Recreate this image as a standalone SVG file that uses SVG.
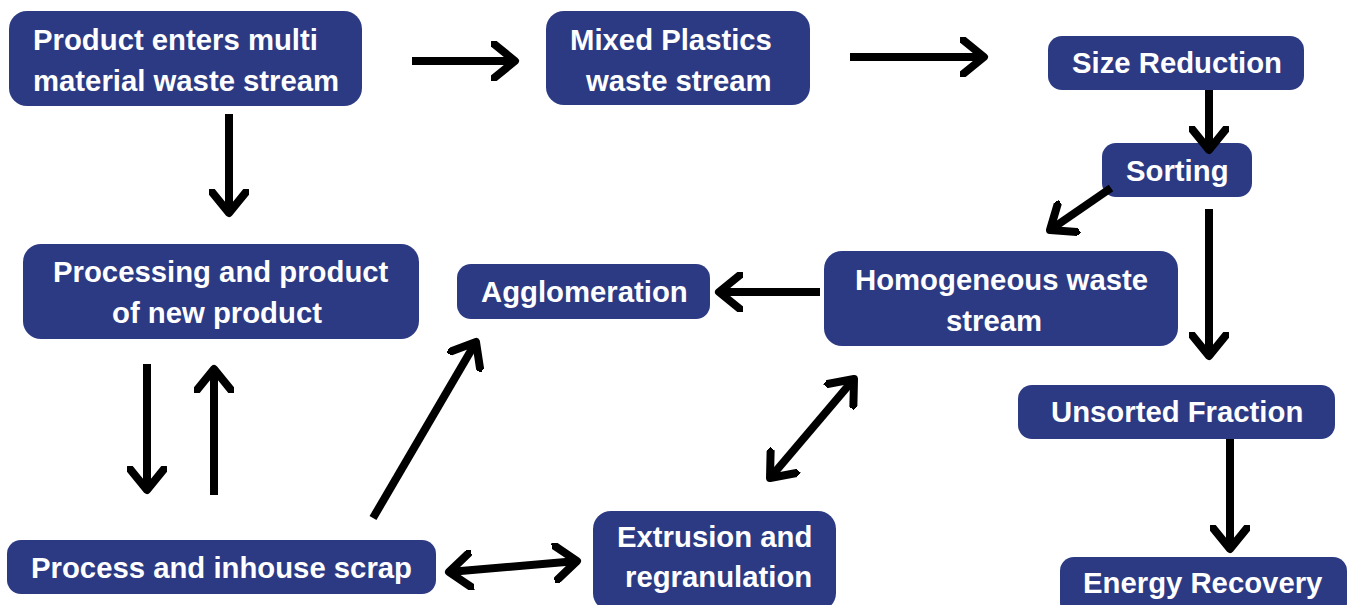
<svg xmlns="http://www.w3.org/2000/svg" width="1350" height="605" viewBox="0 0 1350 605">
<style>
.box{fill:#2c3a84;}
.t{font-family:"Liberation Sans",Arial,sans-serif;font-weight:bold;font-size:29.3px;fill:#ffffff;}
.c{stroke:#000;stroke-width:8;fill:none;}
</style>
<defs>
<marker id="ah" viewBox="0 0 30 40" refX="24" refY="20" markerWidth="30" markerHeight="40" markerUnits="userSpaceOnUse" orient="auto-start-reverse">
<path d="M3,3 L24,20 L3,37" fill="none" stroke="#000" stroke-width="8" stroke-linecap="round" stroke-linejoin="round"/>
</marker>
</defs>
<rect width="1350" height="605" fill="#fff"/>
<g id="n1"><rect class="box" x="9" y="11" width="353" height="95" rx="18"/><text class="t" x="33" y="50">Product enters multi</text><text class="t" x="33" y="91">material waste stream</text></g>
<g id="n2"><rect class="box" x="546" y="11" width="264" height="94" rx="18"/><text class="t" x="570" y="50">Mixed Plastics</text><text class="t" x="586" y="91">waste stream</text></g>
<g id="n3"><rect class="box" x="1048" y="36" width="256" height="54" rx="14"/><text class="t" x="1072" y="73">Size Reduction</text></g>
<g id="n4"><rect class="box" x="1102" y="143" width="150" height="54" rx="14"/><text class="t" x="1126" y="181">Sorting</text></g>
<g id="n5"><rect class="box" x="824" y="251" width="354" height="95" rx="18"/><text class="t" x="855" y="290">Homogeneous waste</text><text class="t" x="946" y="331">stream</text></g>
<g id="n6"><rect class="box" x="457" y="264" width="253" height="55" rx="14"/><text class="t" x="481" y="302">Agglomeration</text></g>
<g id="n7"><rect class="box" x="23" y="244" width="396" height="95" rx="18"/><text class="t" x="53" y="282">Processing and product</text><text class="t" x="112" y="323">of new product</text></g>
<g id="n8"><rect class="box" x="7" y="540" width="429" height="54" rx="14"/><text class="t" x="31" y="578">Process and inhouse scrap</text></g>
<g id="n9"><rect class="box" x="593" y="511" width="243" height="100" rx="18"/><text class="t" x="617" y="547">Extrusion and</text><text class="t" x="625" y="587">regranulation</text></g>
<g id="n10"><rect class="box" x="1018" y="385" width="317" height="54" rx="14"/><text class="t" x="1051" y="422">Unsorted Fraction</text></g>
<g id="n11"><rect class="box" x="1060" y="557" width="287" height="60" rx="14"/><text class="t" x="1083" y="593">Energy Recovery</text></g>
<g id="connectors">
<line class="c" x1="412" y1="61" x2="515" y2="61" marker-end="url(#ah)"/>
<line class="c" x1="850" y1="57" x2="984" y2="57" marker-end="url(#ah)"/>
<line class="c" x1="1209" y1="90" x2="1209" y2="150" marker-end="url(#ah)"/>
<line class="c" x1="1111" y1="188" x2="1050" y2="230" marker-end="url(#ah)"/>
<line class="c" x1="1209" y1="209" x2="1209" y2="356" marker-end="url(#ah)"/>
<line class="c" x1="1230" y1="439" x2="1230" y2="549" marker-end="url(#ah)"/>
<line class="c" x1="820" y1="292" x2="719" y2="292" marker-end="url(#ah)"/>
<line class="c" x1="229" y1="114" x2="229" y2="213" marker-end="url(#ah)"/>
<line class="c" x1="147" y1="364" x2="147" y2="490" marker-end="url(#ah)"/>
<line class="c" x1="214" y1="495" x2="214" y2="369" marker-end="url(#ah)"/>
<line class="c" x1="373" y1="518" x2="476" y2="342" marker-end="url(#ah)"/>
<line class="c" x1="449" y1="572" x2="577" y2="561" marker-start="url(#ah)" marker-end="url(#ah)"/>
<line class="c" x1="770" y1="478" x2="854" y2="379" marker-start="url(#ah)" marker-end="url(#ah)"/>
</g>
</svg>
